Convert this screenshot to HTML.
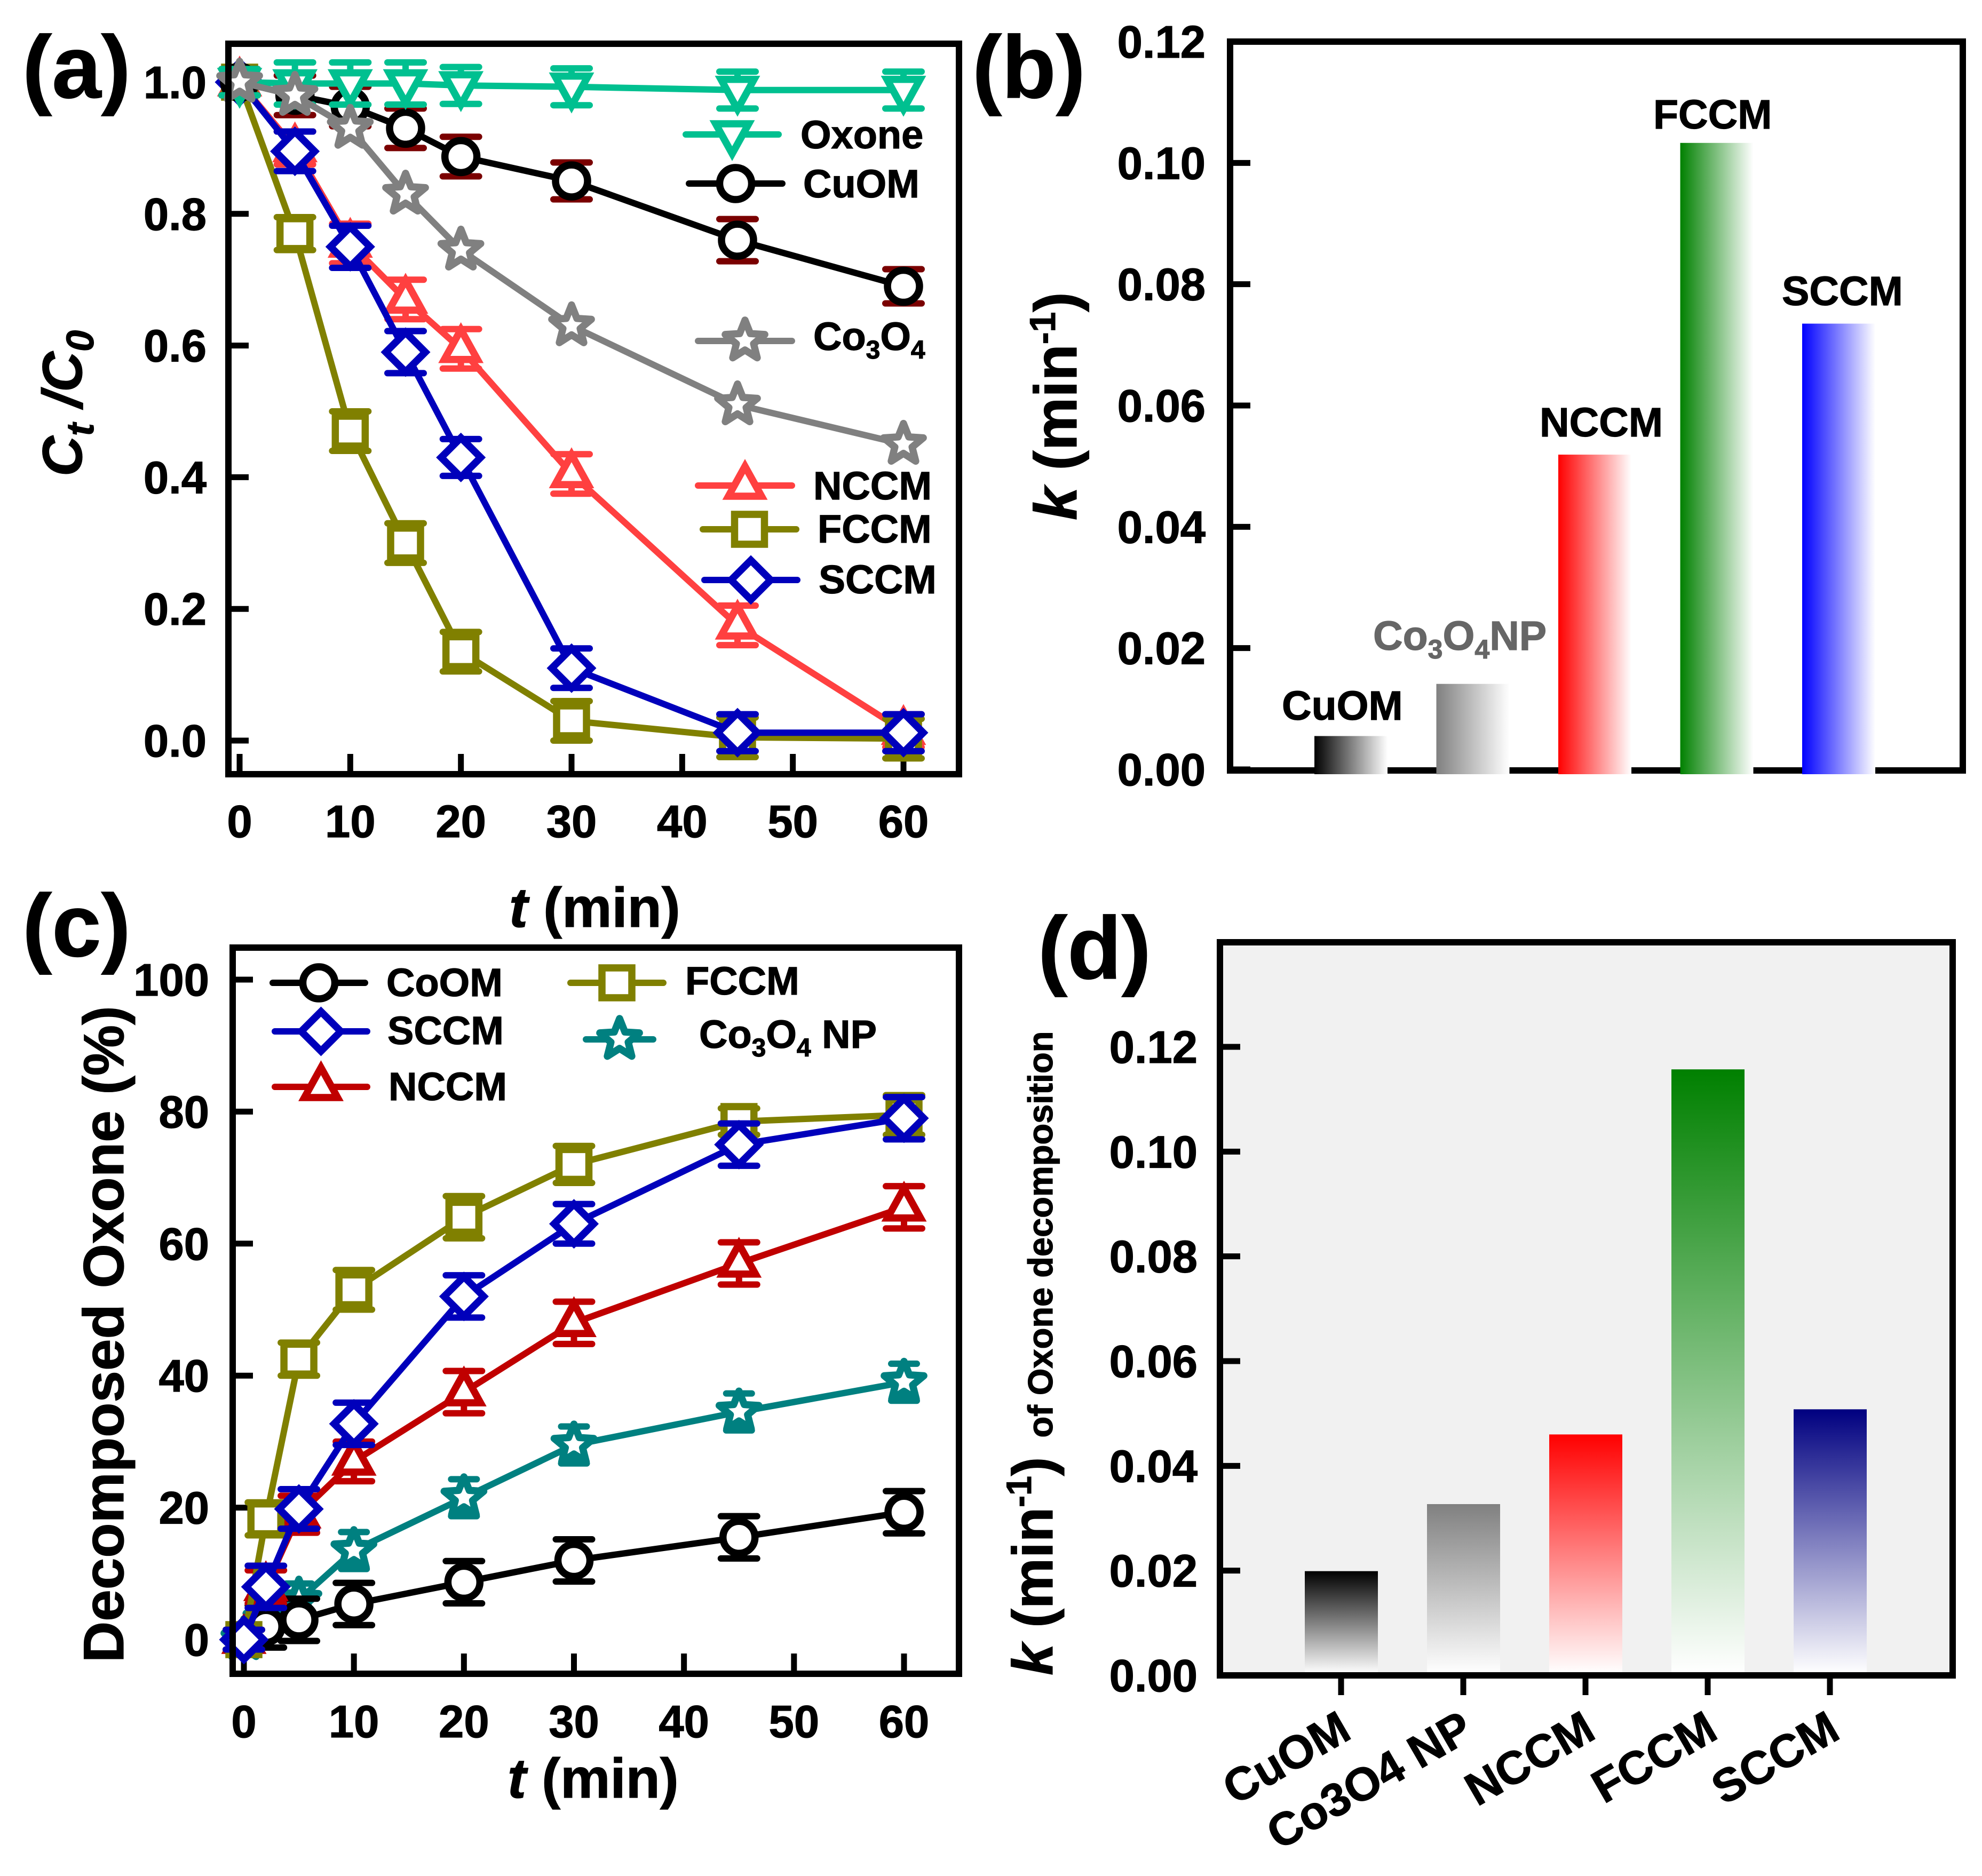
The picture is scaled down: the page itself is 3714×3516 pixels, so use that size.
<!DOCTYPE html>
<html lang="en">
<head>
<meta charset="utf-8">
<title>Kinetics chart panels</title>
<style>
html,body{margin:0;padding:0;background:#fff;}
svg{display:block;}
text{font-family:"Liberation Sans",sans-serif;font-weight:bold;fill:#000;stroke:#000;stroke-width:1.2px;}
</style>
</head>
<body>
<svg id="chart" xmlns="http://www.w3.org/2000/svg" width="3714" height="3516" viewBox="0 0 3714 3516">
  <defs>
    <linearGradient id="hg0" x1="0" x2="1" y1="0" y2="0"><stop offset="0" stop-color="#000"/><stop offset="1" stop-color="#fff"/></linearGradient>
    <linearGradient id="hg1" x1="0" x2="1" y1="0" y2="0"><stop offset="0" stop-color="#808080"/><stop offset="1" stop-color="#fff"/></linearGradient>
    <linearGradient id="hg2" x1="0" x2="1" y1="0" y2="0"><stop offset="0" stop-color="#ff0000"/><stop offset="1" stop-color="#fff"/></linearGradient>
    <linearGradient id="hg3" x1="0" x2="1" y1="0" y2="0"><stop offset="0" stop-color="#008000"/><stop offset="1" stop-color="#fff"/></linearGradient>
    <linearGradient id="hg4" x1="0" x2="1" y1="0" y2="0"><stop offset="0" stop-color="#0000ff"/><stop offset="1" stop-color="#fff"/></linearGradient>
    <linearGradient id="vg0" x1="0" x2="0" y1="0" y2="1"><stop offset="0" stop-color="#000"/><stop offset="1" stop-color="#fff"/></linearGradient>
    <linearGradient id="vg1" x1="0" x2="0" y1="0" y2="1"><stop offset="0" stop-color="#808080"/><stop offset="1" stop-color="#fff"/></linearGradient>
    <linearGradient id="vg2" x1="0" x2="0" y1="0" y2="1"><stop offset="0" stop-color="#ff0000"/><stop offset="1" stop-color="#fff"/></linearGradient>
    <linearGradient id="vg3" x1="0" x2="0" y1="0" y2="1"><stop offset="0" stop-color="#008000"/><stop offset="1" stop-color="#fff"/></linearGradient>
    <linearGradient id="vg4" x1="0" x2="0" y1="0" y2="1"><stop offset="0" stop-color="#000080"/><stop offset="1" stop-color="#fff"/></linearGradient>
  </defs>

  <rect x="2286" y="1766" width="1373" height="1374" fill="#f1f1f1"/>

  <g id="layer-a"></g>
  <g id="layer-b"></g>
  <g id="layer-c"></g>
  <g id="layer-d"></g>

  <text x="42" y="183" font-size="166">(a)</text>
  <text x="1822" y="183" font-size="166">(b)</text>
  <text x="42" y="1792" font-size="166">(c)</text>
  <text x="1945" y="1834" font-size="166">(d)</text>

  <text transform="translate(153,893) rotate(-90)" font-size="105" font-style="italic">C<tspan dy="22" font-size="72">t</tspan><tspan dy="-22"> /C</tspan><tspan dy="22" font-size="72">0</tspan></text>
  <text x="954" y="1737" font-size="105"><tspan font-style="italic">t</tspan> (min)</text>

  <text transform="translate(2017,975) rotate(-90)" font-size="112"><tspan font-style="italic">k</tspan> (min<tspan dy="-40" font-size="68">-1</tspan><tspan dy="40">)</tspan></text>

  <text transform="translate(231,3116) rotate(-90)" font-size="107">Decomposed Oxone (%)</text>
  <text x="951" y="3369" font-size="105"><tspan font-style="italic">t</tspan> (min)</text>

  <text transform="translate(1972,3140) rotate(-90)" font-size="107"><tspan font-style="italic">k</tspan> (min<tspan dy="-40" font-size="66">-1</tspan><tspan dy="40">)</tspan><tspan font-size="65" dx="18"> of Oxone decomposition</tspan></text>

  <!-- Legend text, panel a -->
  <text x="1500" y="278" font-size="74">Oxone</text>
  <text x="1505" y="370" font-size="74">CuOM</text>
  <text x="1524" y="656" font-size="74">Co<tspan dy="16" font-size="48">3</tspan><tspan dy="-16">O</tspan><tspan dy="16" font-size="48">4</tspan></text>
  <text x="1524" y="936" font-size="74">NCCM</text>
  <text x="1532" y="1017" font-size="74">FCCM</text>
  <text x="1534" y="1112" font-size="75">SCCM</text>

  <!-- Legend text, panel c -->
  <text x="724" y="1867" font-size="74">CoOM</text>
  <text x="726" y="1957" font-size="74">SCCM</text>
  <text x="728" y="2062" font-size="74">NCCM</text>
  <text x="1284" y="1864" font-size="74">FCCM</text>
  <text x="1310" y="1964" font-size="74">Co<tspan dy="16" font-size="48">3</tspan><tspan dy="-16">O</tspan><tspan dy="16" font-size="48">4</tspan><tspan dy="-16"> NP</tspan></text>

  <!-- Bar labels, panel b -->
  <text x="2402" y="1349" font-size="77">CuOM</text>
  <text x="2573" y="1218" font-size="77" style="fill:#666;stroke:#666">Co<tspan dy="16" font-size="50" style="fill:#666;stroke:#666">3</tspan><tspan dy="-16" style="fill:#666;stroke:#666">O</tspan><tspan dy="16" font-size="50" style="fill:#666;stroke:#666">4</tspan><tspan dy="-16" style="fill:#666;stroke:#666">NP</tspan></text>
  <text x="2885" y="818" font-size="77">NCCM</text>
  <text x="3098" y="241" font-size="77">FCCM</text>
  <text x="3339" y="572" font-size="77">SCCM</text>
</svg>

<script>
// ---------- Panel (a) data ----------
const aTimes = [0, 5, 10, 15, 20, 30, 45, 60];
const aXTicks = [0, 10, 20, 30, 40, 50, 60];
const aYTicks = [0.0, 0.2, 0.4, 0.6, 0.8, 1.0];
const aNccm = [1, 0.90, 0.755, 0.67, 0.595, 0.405, 0.175, 0.015];
const aNccmErr = [0.02, 0.025, 0.03, 0.03, 0.03, 0.03, 0.03, 0.025];
const aFccm = [1, 0.77, 0.47, 0.30, 0.135, 0.03, 0.005, 0.003];
const aFccmErr = [0.02, 0.025, 0.03, 0.03, 0.03, 0.03, 0.03, 0.03];
const aSccm = [1, 0.895, 0.75, 0.59, 0.43, 0.11, 0.012, 0.012];
const aSccmErr = [0.02, 0.03, 0.032, 0.032, 0.028, 0.03, 0.028, 0.028];
const aCuom = [1, 0.98, 0.963, 0.93, 0.887, 0.85, 0.76, 0.69];
const aCuomErr = [0.02, 0.03, 0.03, 0.03, 0.03, 0.028, 0.032, 0.026];
const aOxone = [1, 0.998, 0.998, 0.998, 0.995, 0.993, 0.988, 0.988];
const aOxoneErr = [0.02, 0.032, 0.032, 0.032, 0.028, 0.028, 0.028, 0.028];
const aCo3o4 = [1, 0.98, 0.93, 0.83, 0.745, 0.63, 0.51, 0.45];

// ---------- Panel (b) data ----------
const bCategories = ['CuOM', 'Co3O4NP', 'NCCM', 'FCCM', 'SCCM'];
const bValues = [0.0055, 0.0141, 0.0519, 0.1033, 0.0735];
const bYTicks = ['0.00', '0.02', '0.04', '0.06', '0.08', '0.10', '0.12'];

// ---------- Panel (c) data ----------
const cTimes = [0, 2, 5, 10, 20, 30, 45, 60];
const cXTicks = [0, 10, 20, 30, 40, 50, 60];
const cYTicks = [0, 20, 40, 60, 80, 100];
const cCo3o4 = [0, 3, 6, 13.5, 21.5, 29.5, 34.5, 39];
const cCo3o4Err = [1.5, 2, 2.5, 2.8, 2.8, 2.8, 2.8, 2.8];
const cCoom = [0, 2, 3, 5.4, 8.7, 12, 15.5, 19.3];
const cCoomErr = [1.5, 3.2, 3.2, 3.2, 3.2, 3.2, 3.2, 3.2];
const cNccm = [0, 8, 19, 27, 37.5, 48, 57, 65.5];
const cNccmErr = [1.5, 2.5, 2.8, 3, 3.2, 3.2, 3.2, 3.2];
const cFccm = [0, 18.3, 42.5, 53, 64, 72, 78.5, 79.5];
const cFccmErr = [1.5, 2.5, 2.5, 3, 3.2, 2.8, 2, 3];
const cSccm = [0, 8, 19.8, 32.7, 52, 63, 75, 79];
const cSccmErr = [1.5, 3.2, 3, 3.2, 3.2, 3, 3.2, 3.2];

// ---------- Panel (d) data ----------
const dCategories = ['CuOM', 'Co3O4 NP', 'NCCM', 'FCCM', 'SCCM'];
const dValues = [0.0199, 0.0327, 0.046, 0.1157, 0.0508];
const dYTicks = ['0.00', '0.02', '0.04', '0.06', '0.08', '0.10', '0.12'];

// ---------- Helpers ----------
const NS = 'http://www.w3.org/2000/svg';

function make(tag, parent, attrs) {
  const el = document.createElementNS(NS, tag);
  for (const k in attrs) el.setAttribute(k, attrs[k]);
  parent.appendChild(el);
  return el;
}

function linear(d0, d1, r0, r1) {
  return function (v) { return r0 + (v - d0) * (r1 - r0) / (d1 - d0); };
}

function starPath(R, r) {
  let d = '';
  for (let i = 0; i < 10; i++) {
    const rad = i % 2 === 0 ? R : r;
    const ang = -Math.PI / 2 + i * Math.PI / 5;
    d += (i ? 'L' : 'M') + (rad * Math.cos(ang)).toFixed(1) + ',' + (rad * Math.sin(ang)).toFixed(1);
  }
  return d + 'Z';
}

const shapes = {
  triUp: 'M0,-36L31,20L-31,20Z',
  triDown: 'M0,36L31,-20L-31,-20Z',
  square: 'M-28,-28L28,-28L28,28L-28,28Z',
  diamond: 'M0,-37L37,0L0,37L-37,0Z',
  circle: 'M-30,0A30,30 0 1,1 30,0A30,30 0 1,1 -30,0Z',
  star: starPath(39, 17)
};

function drawMarker(parent, shape, color, cx, cy) {
  const p = make('path', parent, {
    d: shapes[shape],
    transform: 'translate(' + cx + ',' + cy + ')',
    fill: '#fff',
    stroke: color,
    'stroke-width': 13.5,
    'stroke-linejoin': shape === 'star' ? 'round' : 'miter'
  });
  
  
  return p;
}

function drawFrame(parent, x0, y0, x1, y1) {
  const r = make('rect', parent, {
    x: x0, y: y0, width: x1 - x0, height: y1 - y0,
    fill: 'none', stroke: '#000', 'stroke-width': 12
  });
  
  
}

function drawYTicks(parent, ticks, yScale, frameLeft, labelRight, decimals) {
  ticks.forEach(function (t) {
    const y = yScale(+t);
    const l = make('line', parent, {
      x1: frameLeft, x2: frameLeft + 38, y1: y, y2: y,
      stroke: '#000', 'stroke-width': 11
    });
    
    
    const tx = make('text', parent, {
      x: labelRight, y: y + 30, 'font-size': 85, 'text-anchor': 'end'
    });
    
    
    tx.textContent = decimals === null ? String(t) : (+t).toFixed(decimals);
  });
}

function drawXTicks(parent, ticks, xScale, frameBottom, labelBase) {
  ticks.forEach(function (t) {
    const x = xScale(t);
    const l = make('line', parent, {
      x1: x, x2: x, y1: frameBottom, y2: frameBottom - 38,
      stroke: '#000', 'stroke-width': 11
    });
    
    
    const tx = make('text', parent, {
      x: x, y: labelBase, 'font-size': 85, 'text-anchor': 'middle'
    });
    
    
    tx.textContent = String(t);
  });
}

function drawSeries(parent, name, xs, ys, errs, xScale, yScale, color, capColor, shape, capHalf) {
  const g = make('g', parent, {});
  
  
  const pts = xs.map(function (x, i) { return xScale(x) + ',' + yScale(ys[i]); }).join(' ');
  const line = make('polyline', g, {
    points: pts, fill: 'none', stroke: color, 'stroke-width': 12, 'stroke-linejoin': 'round'
  });
  
  
  xs.forEach(function (x, i) {
    const cx = xScale(x);
    const cy = yScale(ys[i]);
    if (errs) {
      const top = yScale(ys[i] + errs[i]);
      const bot = yScale(ys[i] - errs[i]);
      const e = make('path', g, {
        d: 'M' + (cx - capHalf) + ',' + top + 'H' + (cx + capHalf) +
           'M' + (cx - capHalf) + ',' + bot + 'H' + (cx + capHalf) +
           'M' + cx + ',' + top + 'V' + bot,
        fill: 'none', stroke: capColor, 'stroke-width': 12, 'stroke-linecap': 'round'
      });
      
      
    }
    drawMarker(g, shape, color, cx, cy);
  });
}

function drawLegendKey(parent, name, x1, x2, y, color, shape) {
  const g = make('g', parent, {});
  
  
  const l = make('line', g, {
    x1: x1, x2: x2, y1: y, y2: y, stroke: color, 'stroke-width': 12, 'stroke-linecap': 'round'
  });
  
  
  drawMarker(g, shape, color, (x1 + x2) / 2, y);
}

// ---------- Panel (a) ----------
(function () {
  const layer = document.getElementById('layer-a');
  const x = linear(0, 60, 449, 1693);
  const y = linear(0, 1, 1388, 154);
  drawXTicks(layer, aXTicks, x, 1451, 1569);
  drawYTicks(layer, aYTicks, y, 428, 387, 1);
  drawSeries(layer, 'nccm', aTimes, aNccm, aNccmErr, x, y, '#ff4040', '#ff4040', 'triUp', 34);
  drawSeries(layer, 'fccm', aTimes, aFccm, aFccmErr, x, y, '#808000', '#808000', 'square', 34);
  drawSeries(layer, 'sccm', aTimes, aSccm, aSccmErr, x, y, '#0000bb', '#0000bb', 'diamond', 34);
  drawSeries(layer, 'cuom', aTimes, aCuom, aCuomErr, x, y, '#000000', '#7a0000', 'circle', 34);
  drawSeries(layer, 'oxone', aTimes, aOxone, aOxoneErr, x, y, '#00c090', '#00c090', 'triDown', 34);
  drawSeries(layer, 'co3o4', aTimes, aCo3o4, null, x, y, '#808080', '#808080', 'star', 0);
  drawFrame(layer, 428, 82, 1797, 1451);
  drawLegendKey(layer, 'oxone', 1285, 1459, 252, '#00c090', 'triDown');
  drawLegendKey(layer, 'cuom', 1291, 1466, 344, '#000000', 'circle');
  drawLegendKey(layer, 'co3o4', 1308, 1484, 639, '#808080', 'star');
  drawLegendKey(layer, 'nccm', 1308, 1484, 910, '#ff4040', 'triUp');
  drawLegendKey(layer, 'fccm', 1317, 1492, 992, '#808000', 'square');
  drawLegendKey(layer, 'sccm', 1320, 1494, 1087, '#0000bb', 'diamond');
})();

// ---------- Panel (b) ----------
(function () {
  const layer = document.getElementById('layer-b');
  const y = linear(0, 0.12, 1442, 78);
  const band = function (i) { return 2463 + i * 228.5; };
  drawFrame(layer, 2305, 78, 3678, 1444);
  drawYTicks(layer, bYTicks, y, 2305, 2259, 2);
  bValues.forEach(function (v, i) {
    const r = make('rect', layer, {
      x: band(i), y: y(v), width: 137, height: 1451 - y(v), fill: 'url(#hg' + i + ')'
    });
    
    
  });
})();

// ---------- Panel (c) ----------
(function () {
  const layer = document.getElementById('layer-c');
  const x = linear(0, 60, 457, 1694);
  const y = linear(0, 100, 3073, 1836);
  drawXTicks(layer, cXTicks, x, 3137, 3256);
  drawYTicks(layer, cYTicks, y, 436, 392, null);
  drawSeries(layer, 'co3o4-np', cTimes, cCo3o4, cCo3o4Err, x, y, '#008080', '#008080', 'star', 24);
  drawSeries(layer, 'coom', cTimes.slice(1), cCoom.slice(1), cCoomErr.slice(1), x, y, '#000000', '#000000', 'circle', 34);
  drawSeries(layer, 'nccm', cTimes, cNccm, cNccmErr, x, y, '#c00000', '#c00000', 'triUp', 34);
  drawSeries(layer, 'fccm', cTimes, cFccm, cFccmErr, x, y, '#808000', '#808000', 'square', 34);
  drawSeries(layer, 'sccm', cTimes, cSccm, cSccmErr, x, y, '#0000bb', '#0000bb', 'diamond', 34);
  drawFrame(layer, 436, 1776, 1797, 3137);
  drawLegendKey(layer, 'coom', 511, 684, 1842, '#000000', 'circle');
  drawLegendKey(layer, 'sccm', 515, 688, 1933, '#0000bb', 'diamond');
  drawLegendKey(layer, 'nccm', 515, 688, 2037, '#c00000', 'triUp');
  drawLegendKey(layer, 'fccm', 1069, 1243, 1842, '#808000', 'square');
  drawLegendKey(layer, 'co3o4-np', 1098, 1224, 1948, '#008080', 'star');
})();

// ---------- Panel (d) ----------
(function () {
  const layer = document.getElementById('layer-d');
  const y = linear(0, 0.12, 3140, 1962);
  const center = function (i) { return 2513 + i * 229; };
  dValues.forEach(function (v, i) {
    const r = make('rect', layer, {
      x: center(i) - 68, y: y(v), width: 137, height: 3137 - y(v), fill: 'url(#vg' + i + ')'
    });
    
    
  });
  drawFrame(layer, 2286, 1766, 3659, 3140);
  drawYTicks(layer, dYTicks, y, 2286, 2244, 2);
  dCategories.forEach(function (c, i) {
    const cx = center(i);
    const t = make('line', layer, {
      x1: cx, x2: cx, y1: 3140, y2: 3177, stroke: '#000', 'stroke-width': 11
    });
    
    
    const tx = make('text', layer, {
      transform: 'translate(' + (cx + 23) + ',3256) rotate(-30)',
      'font-size': 87, 'text-anchor': 'end'
    });
    
    
    tx.textContent = c;
  });
})();
</script>
</body>
</html>
